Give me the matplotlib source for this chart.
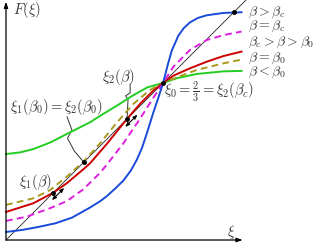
import matplotlib
matplotlib.use("Agg")
import matplotlib.pyplot as plt

plt.rcParams['mathtext.fontset'] = 'cm'
plt.rcParams['font.family'] = ['DejaVu Serif']

# curves F(xi)
blue_x = [0, 0.07, 0.14, 0.21, 0.28, 0.357, 0.40, 0.428, 0.465, 0.498, 0.53, 0.555, 0.577, 0.597,
          0.625, 0.647, 0.667, 0.687, 0.704, 0.732, 0.755, 0.781, 0.815, 0.852, 0.923, 1.0]
blue_y = [0.034, 0.043, 0.056, 0.071, 0.095, 0.138, 0.165, 0.186, 0.22, 0.252, 0.295, 0.34, 0.39, 0.450,
          0.54, 0.605, 0.667, 0.745, 0.805, 0.868, 0.900, 0.924, 0.943, 0.954, 0.964, 0.967]

mag_x = [0, 0.088, 0.187, 0.258, 0.328, 0.399, 0.428, 0.498, 0.569, 0.625, 0.667, 0.711, 0.781, 0.852, 0.923, 1.0]
mag_y = [0.081, 0.099, 0.135, 0.165, 0.215, 0.285, 0.320, 0.410, 0.515, 0.603, 0.667, 0.736, 0.807, 0.849, 0.870, 0.885]

red_x = [0, 0.116, 0.201, 0.258, 0.328, 0.357, 0.428, 0.512, 0.569, 0.625, 0.667, 0.711, 0.781, 0.852, 0.923, 1.0]
red_y = [0.119, 0.156, 0.201, 0.241, 0.300, 0.326, 0.408, 0.512, 0.578, 0.634, 0.667, 0.698, 0.729, 0.757, 0.781, 0.800]

olive_x = [0, 0.116, 0.187, 0.258, 0.328, 0.399, 0.470, 0.541, 0.611, 0.667, 0.725, 0.81, 0.923, 1.0]
olive_y = [0.149, 0.177, 0.212, 0.269, 0.332, 0.410, 0.498, 0.578, 0.637, 0.667, 0.691, 0.722, 0.750, 0.766]

green_x = [0, 0.06, 0.116, 0.19, 0.258, 0.357, 0.399, 0.470, 0.541, 0.600, 0.667, 0.725, 0.81, 0.923, 1.0]
green_y = [0.365, 0.372, 0.386, 0.415, 0.450, 0.500, 0.527, 0.570, 0.615, 0.648, 0.667, 0.687, 0.705, 0.716, 0.718]

labels = [r'$\beta > \beta_c$', r'$\beta = \beta_c$', r'$\beta_c > \beta > \beta_0$',
          r'$\beta = \beta_0$', r'$\beta < \beta_0$']
label_y = [0.968, 0.909, 0.841, 0.773, 0.713]

# special points on the diagonal
xi1_beta = 0.201
xi2_beta = 0.512
xi_beta0 = 0.330
xi0 = 2 / 3
xi_top = 0.966

fig = plt.figure(figsize=(3.24, 2.45), dpi=100)
ax = fig.add_axes([0, 0, 1, 1])
ax.set_xlim(-0.0255, 1.350)
ax.set_ylim(-0.0212, 1.019)
ax.axis('off')

tc = '#333333'
fs = 10.5
lw = 1.4
ax.plot([0, 1.03], [0, 1.03], color='#222222', lw=0.6, zorder=2)
ax.plot(green_x, green_y, color='#22cc22', lw=lw, zorder=3)
ax.plot(olive_x, olive_y, color='#a89a1e', lw=lw, ls=(0, (3.5, 2.2)), zorder=3)
ax.plot(red_x, red_y, color='#cc0000', lw=lw, zorder=3)
ax.plot(mag_x, mag_y, color='#e01ee0', lw=lw, ls=(0, (3.5, 2.2)), zorder=3)
ax.plot(blue_x, blue_y, color='#1a4bd8', lw=lw, zorder=3)

# axes arrows
ax.annotate('', xy=(0, 1.012), xytext=(0, 0),
            arrowprops=dict(arrowstyle='-|>,head_length=0.35,head_width=0.12', color='black', lw=0.9, shrinkA=0, shrinkB=0))
ax.annotate('', xy=(1.005, 0), xytext=(0, 0),
            arrowprops=dict(arrowstyle='-|>,head_length=0.35,head_width=0.12', color='black', lw=0.9, shrinkA=0, shrinkB=0))

# dots
for p in [xi1_beta, xi2_beta, xi_beta0, xi0, xi_top]:
    ax.plot([p], [p], 'o', color='black', ms=2.5, zorder=5)

# double arrows
d = 0.026
for p in [xi1_beta, xi2_beta]:
    c = (p + 0.02, p - 0.006)
    ax.annotate('', xy=(c[0] + d, c[1] + d), xytext=(c[0] - d, c[1] - d),
                arrowprops=dict(arrowstyle='<|-|>,head_length=0.25,head_width=0.1', color='black', lw=0.8, shrinkA=0, shrinkB=0), zorder=6)

# labels
for t, y in zip(labels, label_y):
    ax.text(1.026, y, t, fontsize=10, color=tc, va='center', ha='left')

ax.text(0.028, 0.975, r'$F(\xi)$', fontsize=fs, color=tc, va='center', ha='left')
ax.text(0.955, 0.032, r'$\xi$', fontsize=fs, color=tc, va='center', ha='center')
ax.text(0.672, 0.628, r'$\xi_0 = \frac{2}{3} = \xi_2(\beta_c)$', fontsize=fs, color=tc, va='center', ha='left')
ax.text(0.475, 0.692, r'$\xi_2(\beta)$', fontsize=fs, color=tc, va='center', ha='center')
ax.text(0.213, 0.565, r'$\xi_1(\beta_0) = \xi_2(\beta_0)$', fontsize=fs, color=tc, va='center', ha='center')
ax.text(0.123, 0.245, r'$\xi_1(\beta)$', fontsize=fs, color=tc, va='center', ha='center')

# squiggly pointers
sq1_x = [0.527, 0.527, 0.508, 0.518, 0.514]
sq1_y = [0.662, 0.625, 0.612, 0.596, 0.517]
ax.plot(sq1_x, sq1_y, color='#333333', lw=0.7)
sq2_x = [0.259, 0.280, 0.261, 0.290, 0.328]
sq2_y = [0.523, 0.467, 0.432, 0.378, 0.333]
ax.plot(sq2_x, sq2_y, color='#333333', lw=0.7)

fig.savefig('out.png', dpi=100)
